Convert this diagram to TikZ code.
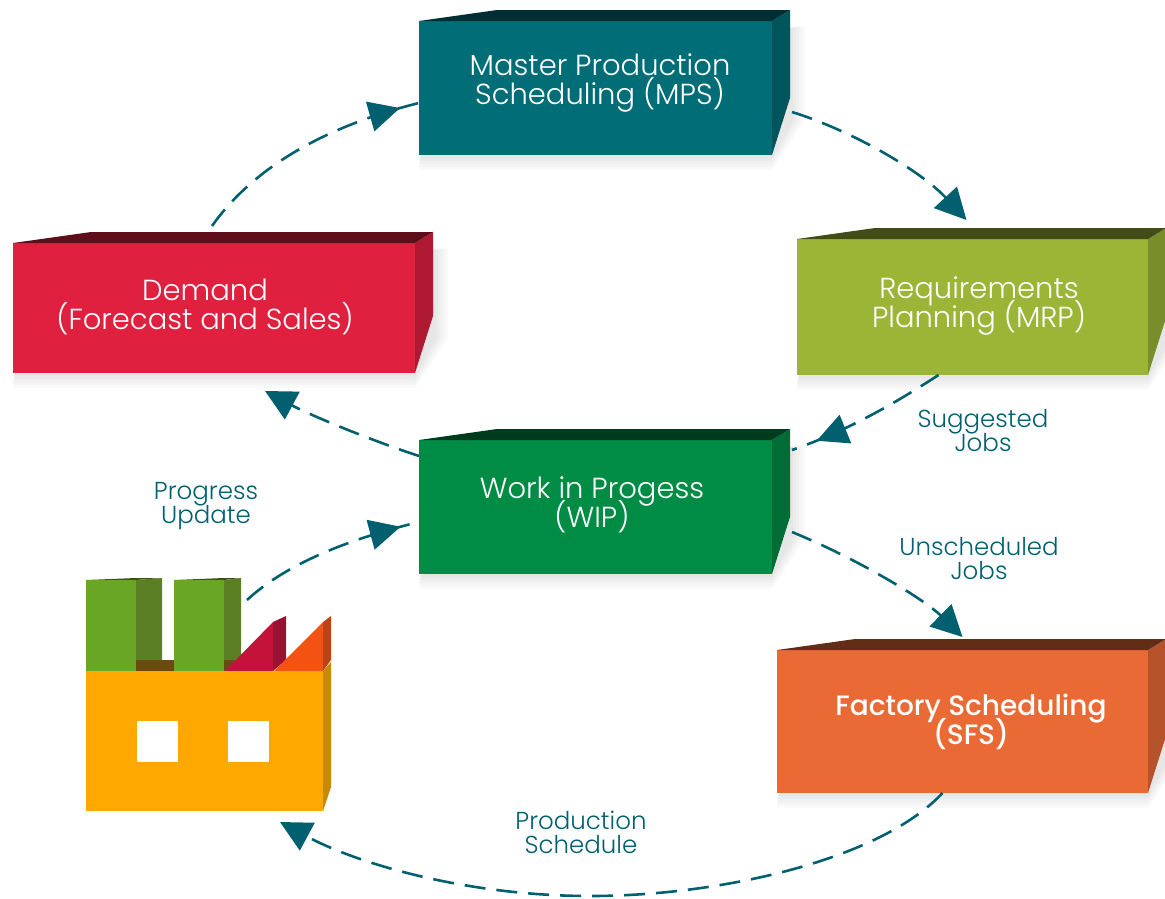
\documentclass[tikz,border=0pt]{standalone}
\usepackage{fontspec}
\setmainfont{Poppins Light}[BoldFont={Poppins Medium}]
\usetikzlibrary{arrows.meta,backgrounds,decorations.markings}
\normallineskiplimit=-100pt
\lineskiplimit=-100pt
\definecolor{flowteal}{HTML}{00606F}
\definecolor{mpsteal}{HTML}{006D77}
\definecolor{demandred}{HTML}{E0203F}
\definecolor{mrpgreen}{HTML}{9BB637}
\definecolor{wipgreen}{HTML}{008C45}
\definecolor{sfsorange}{HTML}{EA6A36}
\tikzset{
  blockface/.style={outer sep=0pt, inner sep=0pt},
  blocktext/.style={text=white, font=\fontsize{29}{29}\selectfont, align=center, inner sep=0pt},
  flowtext/.style={text=flowteal, font=\fontsize{24.5}{24}\selectfont, align=center, inner sep=0pt},
  flow/.style={draw=flowteal, line width=2.6pt, dash pattern=on 21pt off 11pt},
  flowend/.style={flow, -{Triangle[length=31pt,width=31pt,fill=flowteal]}},
  flowtip/.style={flow, decoration={markings, mark=at position #1 with {\arrow[line width=0pt]{Triangle[length=31pt,width=31pt,fill=flowteal]}}}, postaction={decorate}},
}
% name, centre, width, height, colour
\newcommand{\prodblock}[5]{
  \node[blockface, minimum width=#3 pt, minimum height=#4 pt, fill=#5] (#1) at (#2) {};
  \fill[#5!78!black] (#1.north east) -- ++(18,-11) -- ++(0,#4-46) -- (#1.south east) -- cycle;
  \fill[#5!42!black] (#1.north west) -- ++(78,-11) -- ++(#3-60,0) -- (#1.north east) -- cycle;
  \begin{scope}[on background layer]
    \foreach \grow in {3,6,9,12,15} {
      \fill[black, opacity=0.018] ([xshift=2pt]#1.south west) -- ([yshift=-\grow pt]#1.south west) -- ([yshift=-\grow pt]#1.south east) -- ([xshift=18pt+\grow pt,yshift=35pt]#1.south east) -- ([xshift=18pt+\grow pt,yshift=#4 pt-5pt]#1.south east) -- ([yshift=-10pt]#1.north east) -- cycle;
    }
  \end{scope}
}
\begin{document}
\begin{tikzpicture}[x=1pt, y=-1pt, line join=miter]
    \useasboundingbox (0, 0) rectangle (1165, 898);

    \prodblock{mps}{595.5, 88}{353}{134}{mpsteal}
    \prodblock{demand}{214, 308}{402}{130}{demandred}
    \prodblock{mrp}{972.5, 307}{351}{136}{mrpgreen}
    \prodblock{wip}{595.5, 507}{353}{134}{wipgreen}
    \prodblock{sfs}{962.5, 721.5}{371}{143}{sfsorange}

    \node[blocktext] (mpstext) at (600, 83) {Master Production\\Scheduling (MPS)};
    \node[blocktext] (demandtext) at (205, 307) {Demand\\(Forecast and Sales)};
    \node[blocktext] (mrptext) at (979, 306) {Requirements\\Planning (MRP)};
    \node[blocktext] (wiptext) at (592, 505) {Work in Progess\\(WIP)};
    \node[blocktext, font=\fontsize{28}{29}\selectfont\bfseries] (sfstext) at (971, 722) {Factory Scheduling\\(SFS)};

    % factory
    \fill[fill={rgb,255:red,62;green,80;blue,25}] (86, 580) -- (136, 578) -- (162, 578) -- (136, 580) -- cycle;
    \fill[fill={rgb,255:red,62;green,80;blue,25}] (174, 580) -- (224, 578) -- (241, 578) -- (224, 580) -- cycle;
    \fill[fill={rgb,255:red,107;green,74;blue,18}] (136, 660) rectangle (241, 671);
    \fill[fill={rgb,255:red,105;green,166;blue,37}] (86, 580) rectangle (136, 671);
    \fill[fill={rgb,255:red,90;green,127;blue,36}] (136, 580) -- (162, 578) -- (162, 660) -- (136, 660) -- cycle;
    \fill[fill={rgb,255:red,105;green,166;blue,37}] (174, 580) rectangle (224, 671);
    \fill[fill={rgb,255:red,90;green,127;blue,36}] (224, 580) -- (241, 578) -- (241, 660) -- (224, 660) -- cycle;
    \fill[fill={rgb,255:red,153;green,18;blue,51}] (273, 622) -- (286, 616) -- (286, 660) -- (273, 671) -- cycle;
    \fill[fill={rgb,255:red,196;green,18;blue,58}] (225, 671) -- (273, 622) -- (273, 671) -- cycle;
    \fill[fill={rgb,255:red,186;green,68;blue,24}] (323, 622) -- (331, 616) -- (331, 660) -- (323, 671) -- cycle;
    \fill[fill={rgb,255:red,243;green,82;blue,19}] (274, 671) -- (323, 622) -- (323, 671) -- cycle;
    \fill[fill={rgb,255:red,200;green,138;blue,6}] (323, 671) -- (331, 662) -- (331, 787) -- (323, 811) -- cycle;
    \node[blockface, minimum width=237pt, minimum height=140pt, fill={rgb,255:red,255;green,168;blue,0}] (factory) at (204.5, 741) {};
    \fill[white] (137, 721) rectangle (178, 762);
    \fill[white] (228, 721) rectangle (269, 762);

    \coordinate (stackcorner) at (247, 600);

    \draw[flowtip=0.92] ([xshift=-2pt,yshift=17pt]demand.north) .. controls (255, 165) and (330, 125) .. ([yshift=-15pt]mps.west);
    \draw[flowend] ([xshift=20pt,yshift=-24pt]mps.east) .. controls (850, 130) and (920, 170) .. ([xshift=-6pt,yshift=19pt]mrp.north);
    \draw[flowtip=0.84] ([xshift=-34pt]mrp.south) .. controls (900, 400) and (850, 430) .. ([xshift=20pt,yshift=57pt]wip.east);
    \draw[flowend] ([yshift=51pt]wip.west) .. controls (370, 440) and (310, 415) .. ([xshift=51pt,yshift=-18pt]demand.south);
    \draw[flowtip=0.9] (stackcorner) .. controls (285, 565) and (345, 540) .. ([yshift=-15pt]wip.west);
    \draw[flowend] ([xshift=20pt,yshift=-25pt]wip.east) .. controls (860, 560) and (925, 600) .. ([yshift=13pt]sfs.north);
    \draw[flowend] ([xshift=-20pt]sfs.south) .. controls (880, 860) and (720, 896) .. (590, 896) .. controls (470, 896) and (360, 865) .. ([xshift=194pt,yshift=-11pt]factory.south west);

    \node[flowtext] (progresslabel) at (206, 506) {Progress\\Update};
    \node[flowtext] (suggestedlabel) at (983, 431) {Suggested\\Jobs};
    \node[flowtext] (unscheduledlabel) at (979, 559) {Unscheduled\\Jobs};
    \node[flowtext] (productionlabel) at (581, 832) {Production\\Schedule};
\end{tikzpicture}
\end{document}
